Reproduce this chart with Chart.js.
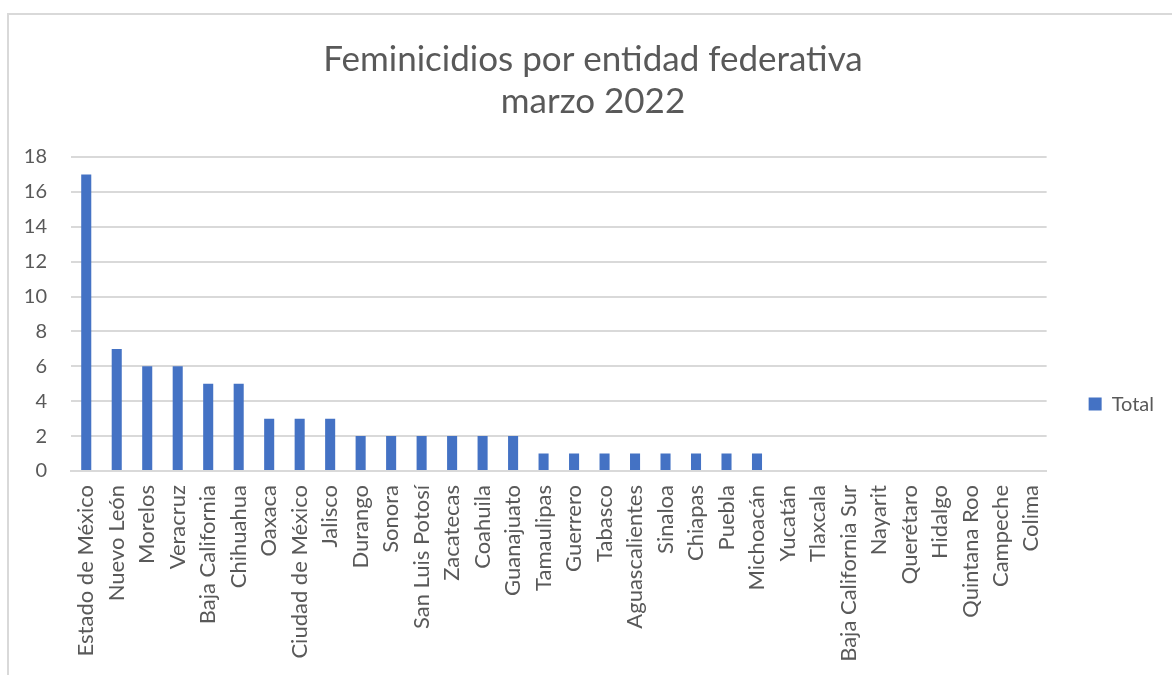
<!DOCTYPE html>
<html>
<head>
<meta charset="utf-8">
<script src="https://cdn.jsdelivr.net/npm/chart.js@4"></script>
<style>
    html, body { margin: 0; padding: 0; background: #fff; overflow: hidden; }
    #frame {
        position: absolute; left: 7px; top: 13px; width: 1200px; height: 700px;
        border: 2px solid #d9d9d9; box-sizing: border-box;
    }
    #wrap { position: absolute; left: 0; top: 0; width: 1172px; height: 675px; }
</style>
</head>
<body>
<div id="frame"></div>
<div id="wrap"><canvas id="chart"></canvas></div>
<script>
// Chart data
const titleLines = ['Feminicidios por entidad federativa', 'marzo 2022'];
const seriesName = 'Total';
const states = [
    'Estado de México', 'Nuevo León', 'Morelos', 'Veracruz', 'Baja California', 'Chihuahua',
    'Oaxaca', 'Ciudad de México', 'Jalisco', 'Durango', 'Sonora', 'San Luis Potosí',
    'Zacatecas', 'Coahuila', 'Guanajuato', 'Tamaulipas', 'Guerrero', 'Tabasco',
    'Aguascalientes', 'Sinaloa', 'Chiapas', 'Puebla', 'Michoacán', 'Yucatán',
    'Tlaxcala', 'Baja California Sur', 'Nayarit', 'Querétaro', 'Hidalgo', 'Quintana Roo',
    'Campeche', 'Colima'
];
const totals = [17, 7, 6, 6, 5, 5, 3, 3, 3, 2, 2, 2, 2, 2, 2, 1, 1, 1, 1, 1, 1, 1, 1, 0, 0, 0, 0, 0, 0, 0, 0, 0];
const yTicks = [0, 2, 4, 6, 8, 10, 12, 14, 16, 18];

const textColor = '#595959';
const gridColor = '#d9d9d9';
const barColor = '#4472C4';
const fontFamily = 'Lato, "Liberation Sans", sans-serif';

const ctx = document.getElementById('chart').getContext('2d');
new Chart(ctx, {
    type: 'bar',
    data: {
        labels: states,
        datasets: [{
            label: seriesName,
            data: totals,
            backgroundColor: barColor,
            borderWidth: 0,
            barPercentage: 0.33,
            categoryPercentage: 1
        }]
    },
    options: {
        responsive: true,
        maintainAspectRatio: false,
        animation: false,
        layout: { padding: { left: 22, right: 8, top: 0, bottom: 0 } },
        plugins: {
            tooltip: { enabled: false },
            title: {
                display: true,
                text: titleLines,
                color: textColor,
                font: { family: fontFamily, size: 35, weight: 'normal', lineHeight: 1.2 },
                padding: { top: 39, bottom: 34 }
            },
            legend: {
                position: 'right',
                align: 'center',
                // empty legend title only pushes the entry down to where Excel puts it
                title: { display: true, text: '', padding: { top: 132, bottom: 0 }, font: { size: 1 } },
                labels: {
                    color: textColor,
                    font: { family: fontFamily, size: 20 },
                    boxWidth: 13,
                    boxHeight: 13,
                    padding: 42
                }
            }
        },
        scales: {
            x: {
                grid: { display: false, drawTicks: false },
                border: { color: gridColor, width: 2 },
                ticks: {
                    color: textColor,
                    font: { family: fontFamily, size: 22 },
                    autoSkip: false,
                    minRotation: 90,
                    maxRotation: 90,
                    padding: 14
                },
                afterFit: s => { s.height = 204; }
            },
            y: {
                min: 0,
                max: 18,
                afterBuildTicks: s => { s.ticks = yTicks.map(v => ({ value: v })); },
                grid: { color: gridColor, lineWidth: 2, drawTicks: false },
                border: { display: false },
                ticks: {
                    color: textColor,
                    font: { family: fontFamily, size: 20 },
                    padding: 24
                },
                afterFit: s => { s.width = 49; }
            }
        }
    }
});
</script>
</body>
</html>
